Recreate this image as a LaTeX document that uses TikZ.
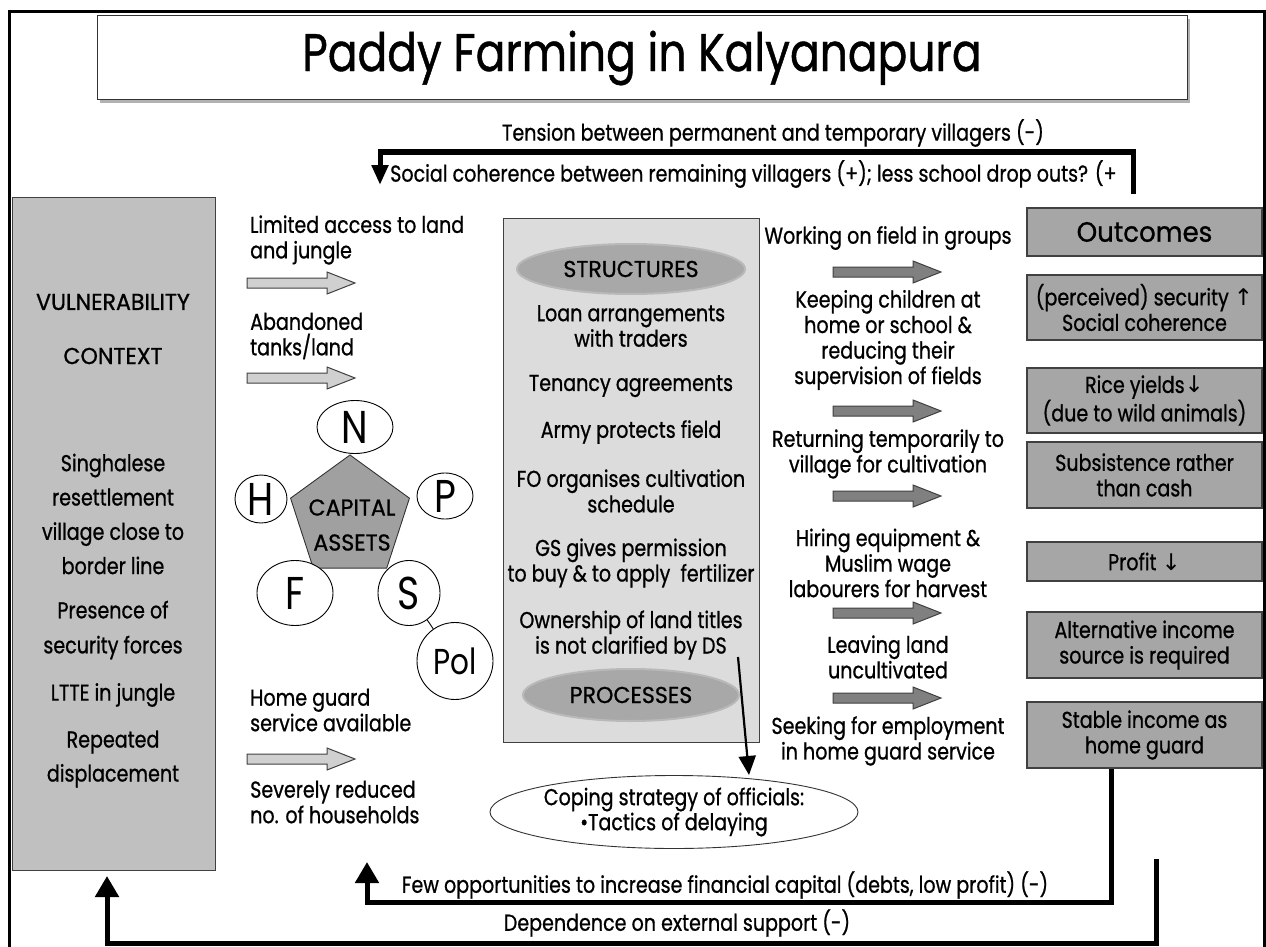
\documentclass[tikz,border=0pt]{standalone}
\usepackage{graphicx}
\usepackage{fontspec}
\setmainfont{Poppins}[FakeStretch=0.83, FakeBold=0.8]
\newfontfamily\letf{Poppins}[FakeStretch=0.82]
\newfontfamily\symf{DejaVu Sans}
\usetikzlibrary{shapes.geometric,arrows.meta}
\definecolor{vcgray}{HTML}{C0C0C0}
\definecolor{boxgray}{HTML}{DCDCDC}
\definecolor{ellgray}{HTML}{A8A8A8}
\definecolor{outgray}{HTML}{A6A6A6}
\definecolor{pentgray}{HTML}{A0A0A0}
\definecolor{larrowc}{HTML}{D0D0D0}
\definecolor{darrowc}{HTML}{808080}
\definecolor{edgec}{HTML}{404040}
\newcommand\wide[1]{\scalebox{1.16}[1]{#1}}
\begin{document}
\begin{tikzpicture}[x=1pt,y=-1pt,
  txt/.style={inner sep=0pt, align=center, font=\fontsize{23}{25.5}\selectfont},
  ltxt/.style={inner sep=0pt, align=left, anchor=west, font=\fontsize{23}{25.5}\selectfont},
  outbox/.style={draw=edgec, line width=1.3pt, fill=outgray, minimum width=235pt, inner sep=0pt, align=center, font=\fontsize{23}{25.5}\selectfont},
  letter/.style={ellipse, draw=black, line width=0.9pt, fill=white, inner sep=0pt, font=\letf\fontsize{46}{46}\selectfont},
  grayell/.style={ellipse, fill=ellgray, draw=ellgray!80, line width=2pt, inner sep=0pt, font=\fontsize{23}{25}\selectfont},
  loopline/.style={line width=5pt, line join=miter, -{Triangle[length=21pt,width=23pt]}},
  pics/blockarrow/.style={code={
    \path[pic actions] (0,-5) -- (80,-5) -- (80,-11) -- (108,0) -- (80,11) -- (80,5) -- (0,5) -- cycle;}},
  larr/.style={draw=edgec, fill=larrowc, line width=1pt},
  darr/.style={draw=edgec, fill=darrowc, line width=1pt}
]
\useasboundingbox (0,0) rectangle (1266,947);

% outer frame
\draw[line width=3pt] (9,947) -- (9,12) -- (1264,12) -- (1264,947);

% title
\fill[gray!60] (100,19) rectangle (1190,103);
\node[draw=black!80, line width=1pt, fill=white, minimum width=1090pt, minimum height=84pt, inner sep=0pt,
      font=\fontsize{53}{56}\selectfont] (title) at (642,58) {Paddy Farming in Kalyanapura};

% top feedback loop
\node[txt] (tension) at (773,133) {Tension between permanent and temporary villagers (-)};
\node[txt, anchor=west] (social) at (390,174) {Social coherence between remaining villagers (+); less school drop outs? (+};
\coordinate (tlA) at (1133,194);
\coordinate (tlB) at (1133,152);
\coordinate (tlC) at (380,152);
\coordinate (tlD) at (380,185);
\draw[line width=5pt, line join=miter, -{Triangle[length=20pt,width=16pt]}] (tlA) -- (tlB) -- (tlC) -- (tlD);

% vulnerability context
\node[draw=edgec, line width=1.3pt, fill=vcgray, anchor=north west, minimum width=203pt, minimum height=673pt, inner sep=0pt] (vc) at (12,197) {};
\node[txt] (vul) at (113,302) {\wide{VULNERABILITY}};
\node[txt] (ctx) at (113,356) {\wide{CONTEXT}};
\node[txt, font=\fontsize{23}{34.3}\selectfont] (sing) at (113,514) {Singhalese\\resettlement\\village close to\\border line};
\node[txt, font=\fontsize{23}{35}\selectfont] (pres) at (113,630) {Presence of\\security forces};
\node[txt] (ltte) at (113,695) {LTTE in jungle};
\node[txt, font=\fontsize{23}{34}\selectfont] (rep) at (113,759) {Repeated\\displacement};

% left labels and light arrows
\node[ltxt] (lim) at (250,240) {Limited access to land\\and jungle};
\pic[larr] at (247,283) {blockarrow};
\node[ltxt] (aba) at (250,336) {Abandoned\\tanks/land};
\pic[larr] at (247,378) {blockarrow};
\node[ltxt] (hg) at (250,710) {Home guard\\service available};
\pic[larr] at (247,759) {blockarrow};
\node[ltxt] (sev) at (250,802) {Severely reduced\\no. of households};

% capital assets
\node[regular polygon, regular polygon sides=5, minimum size=125pt, draw=black!80, line width=0.9pt, fill=pentgray, inner sep=0pt] (cap) at (350,517.5) {};
\node[txt, font=\fontsize{23}{35}\selectfont] (capt) at (352,525) {\wide{CAPITAL}\\\wide{ASSETS}};
\node[letter, minimum width=76pt, minimum height=53pt] (N) at (355,427) {N};
\node[letter, minimum width=52pt, minimum height=48pt] (H) at (261,499) {H};
\node[letter, minimum width=56pt, minimum height=46pt] (P) at (445,496) {P};
\node[letter, minimum width=76pt, minimum height=65pt] (F) at (295,593) {F};
\node[letter, minimum width=62pt, minimum height=65pt] (S) at (409,593) {S};
\node[letter, minimum width=76pt, minimum height=77pt, font=\letf\fontsize{36}{36}\selectfont] (Pol) at (455,661) {Pol};
\draw[line width=0.9pt] (S) -- (Pol);

% structures and processes
\node[draw=edgec, line width=1.3pt, fill=boxgray, anchor=north west, minimum width=256pt, minimum height=524pt, inner sep=0pt] (sp) at (503,218) {};
\node[grayell, minimum width=228pt, minimum height=50pt] (str) at (631,269) {\wide{STRUCTURES}};
\node[txt] (loan) at (631,326) {Loan arrangements\\with traders};
\node[txt] (ten) at (631,386) {Tenancy agreements};
\node[txt] (army) at (631,432) {Army protects field};
\node[txt] (fo) at (631,491) {FO organises cultivation\\schedule};
\node[txt] (gs) at (631,563) {GS gives permission\\to buy \& to apply~ fertilizer};
\node[txt] (own) at (631,635) {Ownership of land titles\\is not clarified by DS};
\node[grayell, minimum width=216pt, minimum height=52pt] (proc) at (631,695) {\wide{PROCESSES}};

% coping strategy
\node[ellipse, draw=black!80, line width=0.9pt, fill=white, minimum width=322pt, minimum height=73pt, inner sep=0pt,
      align=center, font=\fontsize{23}{25}\selectfont] (cop) at (674,812) {Coping strategy of officials:\\\textbullet Tactics of delaying};
\coordinate (dsS) at (738,657);
\coordinate (dsT) at (749,775);
\draw[line width=2.2pt, -{Triangle[length=19pt,width=17pt]}] (dsS) -- (dsT);

% strategies (middle column)
\node[txt] (work) at (888,238) {Working on field in groups};
\pic[darr] at (833,272) {blockarrow};
\node[txt] (keep) at (888,340) {Keeping children at\\home or school \&\\reducing their\\supervision of fields};
\pic[darr] at (833,411) {blockarrow};
\node[txt] (ret) at (888,454) {Returning temporarily to\\village for cultivation};
\pic[darr] at (833,496) {blockarrow};
\node[txt] (hire) at (888,563) {Hiring equipment \&\\Muslim wage\\labourers for harvest};
\pic[darr] at (833,613) {blockarrow};
\node[txt] (leave) at (888,657) {Leaving land\\uncultivated};
\pic[darr] at (833,698) {blockarrow};
\node[txt] (seek) at (888,741) {Seeking for employment\\in home guard service};

% outcomes
\node[outbox, minimum height=48pt, font=\fontsize{28}{30}\selectfont] (out) at (1144.5,232) {\scalebox{1.12}[1]{Outcomes}};
\node[outbox, minimum height=65pt] (sec) at (1144.5,307.5) {(perceived) security {\symf ↑}\\Social coherence};
\node[outbox, minimum height=65pt] (rice) at (1144.5,400.5) {Rice yields{\symf ↓}\\(due to wild animals)};
\node[outbox, minimum height=66pt] (subs) at (1144.5,475) {Subsistence rather\\than cash};
\node[outbox, minimum height=39pt] (prof) at (1144.5,561.5) {Profit {\symf ↓}};
\node[outbox, minimum height=66pt] (alt) at (1144.5,645) {Alternative income\\source is required};
\node[outbox, minimum height=66pt] (stab) at (1144.5,735) {Stable income as\\home guard};

% bottom feedback loops
\coordinate (fA) at (stab.south -| 1111,0);
\coordinate (fB) at (1111,902);
\coordinate (fC) at (367,902);
\coordinate (fD) at (367,862);
\draw[loopline] (fA) -- (fB) -- (fC) -- (fD);
\node[txt] (few) at (725,885) {Few opportunities to increase financial capital (debts, low profit) (-)};
\coordinate (dA) at (1156,859);
\coordinate (dB) at (1156,943);
\coordinate (dC) at (107,943);
\coordinate (dD) at (107,876);
\draw[loopline] (dA) -- (dB) -- (dC) -- (dD);
\node[txt] (dep) at (677,923) {Dependence on external support (-)};
\end{tikzpicture}
\end{document}
